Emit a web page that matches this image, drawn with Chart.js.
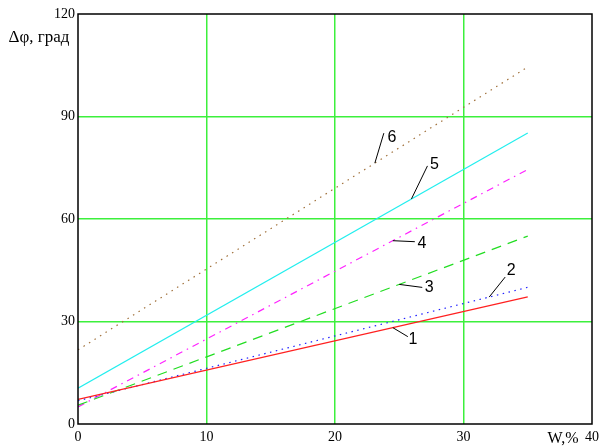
<!DOCTYPE html>
<html>
<head>
<meta charset="utf-8">
<script src="https://cdn.jsdelivr.net/npm/chart.js@4"></script>
<style>
  body { margin: 0; background: #fff; }
  #wrap { width: 604px; height: 448px; }
</style>
</head>
<body>
<div id="wrap"><canvas id="grafico" width="604" height="448"></canvas></div>
<script>
// Datos (W, % -> Δφ, град)
const valoresW = [0, 35];
const curva1 = [7.2, 37.2];
const curva2 = [6.8, 40];
const curva3 = [5.5, 55];
const curva4 = [5, 74.5];
const curva5 = [10.5, 85.2];
const curva6 = [21.7, 104.5];
const etiquetasCurvas = ['1', '2', '3', '4', '5', '6'];
const ticksX = [0, 10, 20, 30, 40];
const ticksY = [0, 30, 60, 90, 120];

const serif = "'Liberation Serif', 'DejaVu Serif', serif";
const sans = "'Liberation Sans', Arial, sans-serif";

function puntos(ys) {
    return valoresW.map((x, i) => ({ x: x, y: ys[i] }));
}

// estilos de cada curva
const estilos = [
    { color: '#ff2020', dash: [] },
    { color: '#2020ff', dash: [1.5, 4.5] },
    { color: '#22dd22', dash: [10, 7] },
    { color: '#ff22ff', dash: [7, 5, 1.5, 5] },
    { color: '#22eeee', dash: [] },
    { color: '#a0703a', dash: [1.5, 5] }
];
const curvas = [curva1, curva2, curva3, curva4, curva5, curva6];

// llamadas: punto sobre la curva (valor de W) y desplazamientos en px
const llamadas = [
    { w: 24.5, fin: [15, 9],   texto: [20, 12] },
    { w: 32.0, fin: [16, -20], texto: [22, -26] },
    { w: 25.0, fin: [23, 3],   texto: [30, 3] },
    { w: 24.5, fin: [22, 1],   texto: [29, 3] },
    { w: 25.95, fin: [16, -33], texto: [23, -34] },
    { w: 23.1, fin: [9, -30],  texto: [17, -26] }
];

function valorEn(ys, w) {
    const t = (w - valoresW[0]) / (valoresW[1] - valoresW[0]);
    return ys[0] + t * (ys[1] - ys[0]);
}

const marcoYTextos = {
    id: 'marcoYTextos',
    afterDatasetsDraw(chart) {
        const ctx = chart.ctx;
        const a = chart.chartArea;
        const sx = chart.scales.x, sy = chart.scales.y;
        ctx.save();
        // marco
        ctx.strokeStyle = '#000';
        ctx.lineWidth = 1.5;
        ctx.strokeRect(a.left, a.top, a.right - a.left, a.bottom - a.top);

        // llamadas con línea guía
        ctx.lineWidth = 1;
        ctx.fillStyle = '#000';
        ctx.font = '16px ' + sans;
        ctx.textAlign = 'center';
        ctx.textBaseline = 'middle';
        llamadas.forEach((c, i) => {
            const px = sx.getPixelForValue(c.w);
            const py = sy.getPixelForValue(valorEn(curvas[i], c.w));
            ctx.beginPath();
            ctx.moveTo(px, py);
            ctx.lineTo(px + c.fin[0], py + c.fin[1]);
            ctx.stroke();
            ctx.fillText(etiquetasCurvas[i], px + c.texto[0], py + c.texto[1]);
        });

        // títulos de ejes
        ctx.font = '17px ' + serif;
        ctx.textAlign = 'center';
        ctx.fillText('Δφ, град', 39, 38);
        ctx.font = '16px ' + serif;
        ctx.fillText('W,%', 563, 439);
        ctx.restore();
    }
};

const colorRejilla = (ctx) => {
    const v = ctx.tick ? ctx.tick.value : null;
    const eje = ctx.scale.axis;
    const max = eje === 'x' ? 40 : 120;
    return (v === 0 || v === max) ? 'rgba(0,0,0,0)' : '#3cf03c';
};

new Chart(document.getElementById('grafico'), {
    type: 'line',
    data: {
        datasets: curvas.map((ys, i) => ({
            label: etiquetasCurvas[i],
            data: puntos(ys),
            borderColor: estilos[i].color,
            borderDash: estilos[i].dash,
            borderWidth: 1.2,
            pointRadius: 0,
            tension: 0,
            fill: false
        }))
    },
    options: {
        responsive: false,
        animation: false,
        layout: { padding: { left: 0, right: 11, top: 14, bottom: 0 } },
        plugins: { legend: { display: false }, tooltip: { enabled: false } },
        scales: {
            x: {
                type: 'linear',
                min: 0, max: 40,
                afterBuildTicks: (s) => { s.ticks = ticksX.map(v => ({ value: v })); },
                afterFit: (s) => { s.height = 24; },
                grid: { color: colorRejilla, lineWidth: 1.5, drawTicks: false },
                border: { display: false },
                ticks: { color: '#000', padding: 5, maxRotation: 0, font: { family: serif, size: 14 } }
            },
            y: {
                type: 'linear',
                min: 0, max: 120,
                afterBuildTicks: (s) => { s.ticks = ticksY.map(v => ({ value: v })); },
                afterFit: (s) => { s.width = 78; },
                grid: { color: colorRejilla, lineWidth: 1.5, drawTicks: false },
                border: { display: false },
                ticks: { color: '#000', padding: 3, font: { family: serif, size: 14 } }
            }
        }
    },
    plugins: [marcoYTextos]
});
</script>
</body>
</html>
